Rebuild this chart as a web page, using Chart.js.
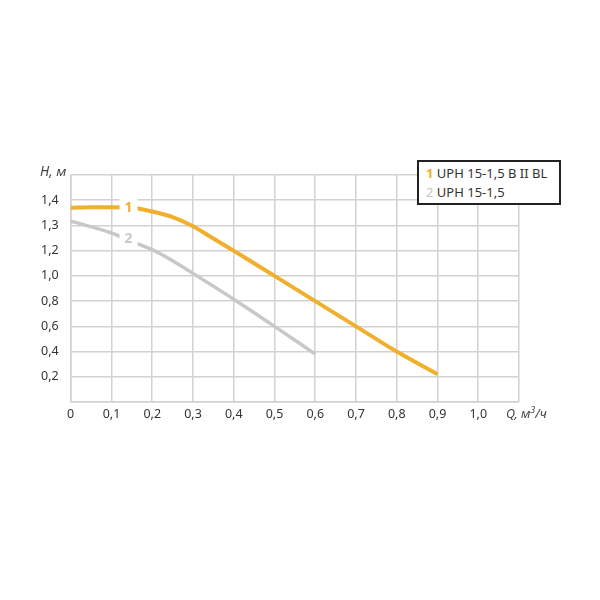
<!DOCTYPE html>
<html><head><meta charset="utf-8">
<script src="https://cdn.jsdelivr.net/npm/chart.js@4"></script>
<style>
html,body{margin:0;padding:0;background:#fff;}
#wrap{position:relative;width:600px;height:600px;}
#legend{position:absolute;left:417px;top:160px;border:2px solid #222;background:#fff;
font-family:"Noto Sans",sans-serif;font-size:13px;color:#333;line-height:19px;padding:2px 0 0 7px;box-sizing:border-box;width:144px;height:45px;}
#legend b{font-weight:bold;}
.t{position:absolute;font-family:"Noto Sans",sans-serif;font-style:italic;color:#444;}
</style></head>
<body><div id="wrap"><canvas id="c" width="600" height="600"></canvas>
<div id="legend"><div><b style="color:#F0B02D">1</b> UPH 15-1,5 B II BL</div><div><b style="color:#C4C4C4;font-weight:normal">2</b> UPH 15-1,5</div></div>
<div class="t" style="left:40px;top:162px;font-size:13.5px;">H, м</div>
<div class="t" style="left:506px;top:403px;font-size:12.5px;">Q, м<sup style="font-size:9px">3</sup>/ч</div>
</div>
<script>
const qTicks = [0,0.1,0.2,0.3,0.4,0.5,0.6,0.7,0.8,0.9,1.0,1.1];
const qTickLabels = ['0','0,1','0,2','0,3','0,4','0,5','0,6','0,7','0,8','0,9','1,0',''];
const hTickValues = [0,0.2,0.4,0.6,0.8,1.0,1.2,1.3,1.4,1.5];
const hTickLabels = ['','0,2','0,4','0,6','0,8','1,0','1,2','1,3','1,4',''];

const q1 = [0,0.05,0.1,0.15,0.2,0.25,0.3,0.35,0.4,0.5,0.6,0.7,0.8,0.9];
const h1 = [1.37,1.372,1.372,1.37,1.355,1.333,1.297,1.248,1.20,1.0,0.8,0.6,0.4,0.22];
const q2 = [0,0.1,0.15,0.2,0.25,0.3,0.4,0.5,0.6];
const h2 = [1.317,1.27,1.236,1.204,1.12,1.02,0.815,0.6,0.38];
const seriesNames = ['1','2'];
const seriesColors = ['#F0B02D','#C8C8C8'];
const labelQ = [0.142,0.142];
const labelH = [1.37,1.245];

function toPos(h){
  for(let i=0;i<hTickValues.length-1;i++){
    const a=hTickValues[i], b=hTickValues[i+1];
    if(h<=b || i===hTickValues.length-2){ return i + (h-a)/(b-a); }
  }
}
const d1 = q1.map((q,i)=>({x:q,y:toPos(h1[i])}));
const d2 = q2.map((q,i)=>({x:q,y:toPos(h2[i])}));

const labelPlugin = {
  id:'curveLabels',
  afterDatasetsDraw(chart){
    const ctx=chart.ctx, xs=chart.scales.x, ys=chart.scales.y;
    ctx.save();
    ctx.font='bold 14px "Noto Sans", sans-serif';
    ctx.textAlign='center'; ctx.textBaseline='middle';
    for(let i=0;i<seriesNames.length;i++){
      const px=xs.getPixelForValue(labelQ[i]), py=ys.getPixelForValue(toPos(labelH[i]));
      ctx.fillStyle='#fff';
      ctx.fillRect(px-9,py-9,18,18);
      ctx.fillStyle=seriesColors[i];
      ctx.fillText(seriesNames[i],px,py);
    }
    ctx.restore();
  }
};

new Chart(document.getElementById('c'),{
  type:'line',
  data:{datasets:[
    {data:d1,borderColor:seriesColors[0],borderWidth:4,pointRadius:0,cubicInterpolationMode:'monotone',fill:false},
    {data:d2,borderColor:seriesColors[1],borderWidth:3.5,pointRadius:0,cubicInterpolationMode:'monotone',fill:false}
  ]},
  plugins:[labelPlugin],
  options:{
    responsive:false,animation:false,
    layout:{padding:{left:0,top:175,right:81,bottom:168}},
    plugins:{legend:{display:false},tooltip:{enabled:false}},
    scales:{
      x:{type:'linear',min:0,max:1.1,
        afterBuildTicks(s){s.ticks=qTicks.map(v=>({value:v}));},
        afterFit(s){s.height=30;},
        grid:{color:'#d2d2d2',lineWidth:1.5,drawTicks:false},
        border:{color:'#d2d2d2',width:1.5},
        ticks:{autoSkip:false,maxRotation:0,padding:5,color:'#333',font:{family:'"Noto Sans", sans-serif',size:12.5},
          callback:(v,i)=>qTickLabels[i]}
      },
      y:{type:'linear',min:0,max:9,
        afterBuildTicks(s){s.ticks=hTickValues.map((v,i)=>({value:i}));},
        afterFit(s){s.width=70.7;},
        grid:{color:'#d2d2d2',lineWidth:1.5,drawTicks:false},
        border:{color:'#d2d2d2',width:1.5},
        ticks:{autoSkip:false,padding:12,color:'#333',font:{family:'"Noto Sans", sans-serif',size:12.5},
          callback:(v,i)=>hTickLabels[i]}
      }
    }
  }
});
</script></body></html>
